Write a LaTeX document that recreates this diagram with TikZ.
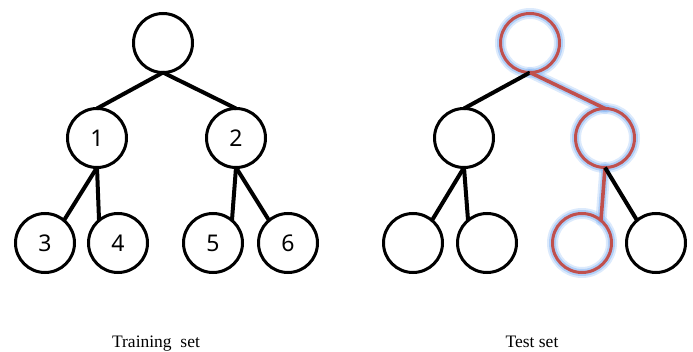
\documentclass[tikz,border=0pt]{standalone}
\usepackage{fontspec}
\setmainfont{Liberation Serif}
\newfontfamily\numfont{Noto Sans}
\usetikzlibrary{backgrounds}
\definecolor{pathred}{RGB}{192,80,77}
\definecolor{glowblue}{RGB}{140,185,245}

\begin{document}
\begin{tikzpicture}[x=1pt,y=-1pt,
		vertex/.style={draw,circle,line width=3pt,minimum size=59pt,inner sep=0pt,outer sep=0pt,
		font=\numfont\fontsize{23}{23}\selectfont},
		edge/.style={line width=4pt},
		hit/.style={draw=pathred},
		hitedge/.style={draw=pathred,line width=3.6pt},
		glow/.style={draw=glowblue,line width=11pt,opacity=0.3,line cap=round},
		innerglow/.style={draw=glowblue,line width=7pt,opacity=0.55,line cap=round},
		caption/.style={font=\fontsize{17.5}{17.5}\selectfont,anchor=base}
		]
	\useasboundingbox (0,0) rectangle (693,352);

	% training tree
	\node[vertex] (r) at (163,43) {};
	\node[vertex] (n1) at (97,138) {1};
	\node[vertex] (n2) at (236,138) {2};
	\node[vertex] (n3) at (45,243) {3};
	\node[vertex] (n4) at (118,243) {4};
	\node[vertex] (n5) at (213,243) {5};
	\node[vertex] (n6) at (288,243) {6};
	\draw[edge] (r.south) -- (n1.north);
	\draw[edge] (r.south) -- (n2.north);
	\draw[edge] (n1.south) -- (n3.50);
	\draw[edge] (n1.south) -- (n4.130);
	\draw[edge] (n2.south) -- (n5.50);
	\draw[edge] (n2.south) -- (n6.130);

	% test tree, one path picked out
	\node[vertex,hit] (tr) at (530,43) {};
	\node[vertex] (ta) at (464,138) {};
	\node[vertex,hit] (tb) at (605,138) {};
	\node[vertex] (ta1) at (413,243) {};
	\node[vertex] (ta2) at (487,243) {};
	\node[vertex,hit] (tb1) at (582,243) {};
	\node[vertex] (tb2) at (656,243) {};
	\draw[edge] (tr.south) -- (ta.north);
	\draw[hitedge] (tr.south) -- (tb.north);
	\draw[edge] (ta.south) -- (ta1.50);
	\draw[edge] (ta.south) -- (ta2.130);
	\draw[hitedge] (tb.south) -- (tb1.50);
	\draw[edge] (tb.south) -- (tb2.130);

	\begin{scope}[on background layer]
		\foreach \s in {glow,innerglow}{
			\draw[\s] (tr) circle (29.5);
			\draw[\s] (tb) circle (29.5);
			\draw[\s] (tb1) circle (29.5);
			\draw[\s] (tr.south) -- (tb.north);
			\draw[\s] (tb.south) -- (tb1.50);
		}
	\end{scope}

	\node[caption] (train) at (156,348) {Training~ set};
	\node[caption] (test) at (532,348) {Test set};
\end{tikzpicture}
\end{document}
